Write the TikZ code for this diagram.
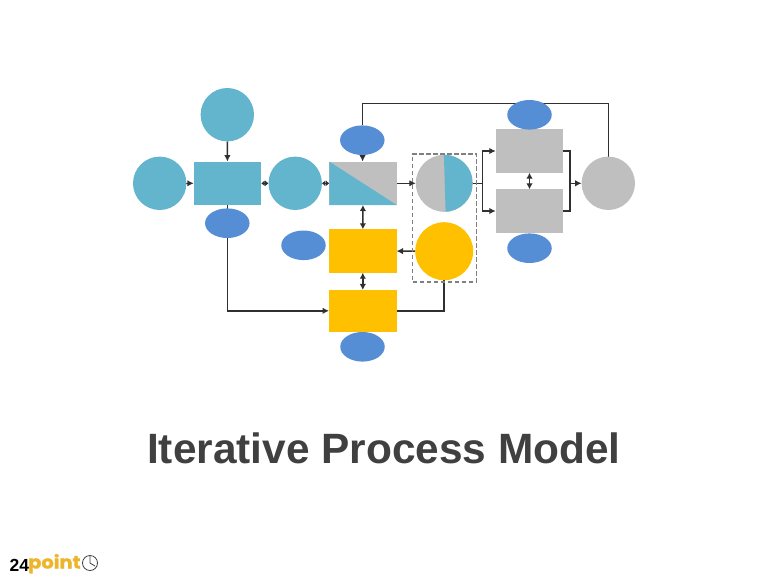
\documentclass[tikz,border=0pt]{standalone}
\usepackage{fontspec}
\setmainfont{Liberation Sans}
\newfontfamily\logofont{Poppins}[BoldFeatures={FakeBold=1.2}]
\usetikzlibrary{arrows.meta,backgrounds,shapes.geometric}
\definecolor{tealfill}{HTML}{62B5CC}
\definecolor{bluefill}{HTML}{558ED5}
\definecolor{goldfill}{HTML}{FFC000}
\definecolor{greyfill}{HTML}{BFBFBF}
\definecolor{titlegrey}{HTML}{404040}
\definecolor{linegrey}{HTML}{303030}
\definecolor{logogold}{HTML}{EDB52B}
\tikzset{
  box/.style      = {shape=rectangle, minimum width=67.5pt, minimum height=43.4pt,
                     inner sep=0pt, outer sep=0pt},
  ball/.style     = {shape=circle, minimum size=53.4pt, inner sep=0pt, outer sep=0pt},
  tag/.style      = {shape=ellipse, minimum width=44.5pt, minimum height=29.6pt,
                     inner sep=0pt, outer sep=0pt, fill=bluefill},
  bigball/.style  = {ball, minimum size=57pt},
  wire/.style     = {draw=linegrey, line width=1.5pt},
  flow/.style     = {wire, -{Latex[length=6.5pt,width=6.5pt]}},
  twoway/.style   = {wire, {Latex[length=6pt,width=6.5pt]}-{Latex[length=6pt,width=6.5pt]}},
  nudge/.style    = {wire, {Latex[length=3.4pt,width=6pt]}-{Latex[length=3.4pt,width=6pt]}}
}
\begin{document}
\begin{tikzpicture}[x=1pt, y=-1pt]
  \useasboundingbox (0,0) rectangle (768,576);

  \node [ball, fill=tealfill] (topball) at (227.3,114.7) {};
  \node [ball, fill=tealfill] (leftball) at (159.7,183.3) {};
  \node [box, fill=tealfill] (hub) at (227.5,183.3) {};
  \node [ball, fill=tealfill] (midball) at (295.2,183.3) {};
  \node [box, fill=greyfill,
         path picture={\fill [tealfill] (path picture bounding box.north west)
           -- (path picture bounding box.south east)
           -- (path picture bounding box.south west) -- cycle;}]
    (splitbox) at (363,183.3) {};
  \node [bigball, fill=greyfill,
         path picture={\fill [tealfill] ([xshift=-0.4pt]path picture bounding box.north)
           -- ([xshift=1.3pt]path picture bounding box.south)
           -- (path picture bounding box.south east)
           -- (path picture bounding box.north east) -- cycle;}]
    (pieball) at (444.3,183.3) {};
  \node [bigball, fill=goldfill, minimum size=58pt] (goldball) at (444.2,251.2) {};
  \node [box, fill=goldfill] (goldtop) at (362.8,251) {};
  \node [box, fill=goldfill, minimum height=41.7pt] (goldlow) at (362.8,310.8) {};
  \node [box, fill=greyfill] (greytop) at (529.5,151) {};
  \node [box, fill=greyfill] (greylow) at (529.5,211) {};
  \node [ball, fill=greyfill] (endball) at (608.3,183.3) {};

  \node [tag] (hubtag) at (227.3,223.2) {};
  \node [tag] (feedtag) at (362.3,140.2) {};
  \node [tag] (sidetag) at (303.5,245.3) {};
  \node [tag] (lowtag) at (362.5,346.8) {};
  \node [tag] (greytag) at (529.5,114.8) {};
  \node [tag] (undertag) at (529.5,248.2) {};

  \node [shape=rectangle, draw=black!50, line width=1.5pt, inner sep=0pt,
         dash pattern=on 4.5pt off 2.5pt,
         minimum width=64pt, minimum height=128pt] (dashbox) at (444.65,217.8) {};

  \coordinate (fork) at (482.7,183.3);
  \coordinate (merge) at (570,183.3);
  \coordinate (roof) at (362.3,103.3);

  \begin{scope}[on background layer]
    \draw [flow] (topball) -- (hub);
    \draw [flow] (leftball) -- (hub);
    \draw [nudge] (hub) -- (midball);
    \draw [nudge] (midball) -- (splitbox);
    \draw [flow] (feedtag) -- (splitbox);
    \draw [twoway] (splitbox) -- (goldtop);
    \draw [twoway] (goldtop) -- (goldlow);
    \draw [flow] (splitbox) -- (pieball);
    \draw [flow] (goldball) -- (goldtop);
    \draw [twoway] (greytop) -- (greylow);
    \draw [wire] (pieball) -- (fork);
    \draw [flow] (fork) |- (greytop);
    \draw [flow] (fork) |- (greylow);
    \draw [wire] (greytop) -| (merge) |- (greylow);
    \draw [flow] (merge) -- (endball);
    \draw [wire] (endball) |- (roof) -- (feedtag);
    \draw [flow] (hub) |- (goldlow);
    \draw [wire] (goldball) |- (goldlow);
  \end{scope}

  \node [font=\fontsize{42.4}{50}\selectfont\bfseries, text=titlegrey, inner sep=0pt,
         anchor=base] (title) at (384,463.5) {Iterative Process Model};

  \node [font=\fontsize{17.5}{22}\selectfont\bfseries, text=black, inner sep=0pt,
         anchor=base west] (logonum) at (9.5,571) {24};
  \node [font=\logofont\fontsize{18}{22}\selectfont\bfseries, text=logogold, inner sep=0pt,
         anchor=base west, xscale=1.08] (logoword) at (28,568.5) {point};
  \node [shape=circle, draw=titlegrey, line width=0.8pt, minimum size=15pt,
         inner sep=0pt] (clock) at (90,563) {};
  \draw [draw=titlegrey, line width=0.8pt] (clock.north) -- (clock.center) -- ([shift={(5,3)}]clock.center);
\end{tikzpicture}
\end{document}
